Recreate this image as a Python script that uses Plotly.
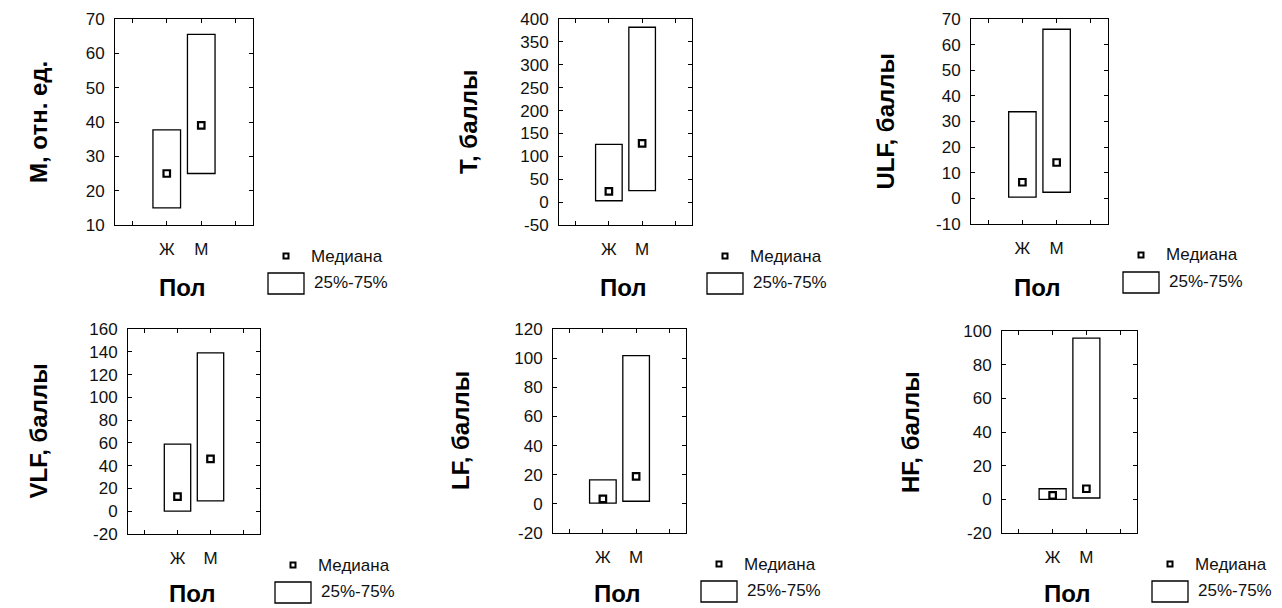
import plotly.graph_objects as go

W, H = 1282, 608

groups = ["Ж", "М"]
x_title = "Пол"
legend_median = "Медиана"
legend_box = "25%-75%"

titles = ["М, отн. ед.", "T, баллы", "ULF, баллы", "VLF, баллы", "LF, баллы", "HF, баллы"]

# quartiles and medians per indicator: [Ж, М]
M_q25 = [15, 25];     M_med = [25, 39];     M_q75 = [37.7, 65.5]
T_q25 = [3, 25];      T_med = [23.5, 128.5]; T_q75 = [126, 382]
ULF_q25 = [0.5, 2.4]; ULF_med = [6.3, 14];  ULF_q75 = [33.8, 66]
VLF_q25 = [0, 9];     VLF_med = [12.8, 46]; VLF_q75 = [59, 139]
LF_q25 = [0.5, 1.8];  LF_med = [3.4, 18.8]; LF_q75 = [16.5, 101.7]
HF_q25 = [0, 0.8];    HF_med = [2.4, 6.3];  HF_q75 = [6.3, 95.8]

y_min = [10, -50, -10, -20, -20, -20]
y_max = [70, 400, 70, 160, 120, 100]
y_step = [10, 50, 10, 20, 20, 20]

q25s = [M_q25, T_q25, ULF_q25, VLF_q25, LF_q25, HF_q25]
meds = [M_med, T_med, ULF_med, VLF_med, LF_med, HF_med]
q75s = [M_q75, T_q75, ULF_q75, VLF_q75, LF_q75, HF_q75]

# panel frames in pixels: left, right, top, bottom
frames = [(115, 253, 19, 225), (559, 692, 19, 225), (971, 1108, 19, 224),
          (128, 260, 329, 534), (553, 686, 329, 533), (1002, 1137, 331, 533)]
ytitle_x = [38, 468, 885, 38, 460, 910]

FONT = "Liberation Sans, Arial, sans-serif"
fig = go.Figure()
pos = [i + 1 for i in range(len(groups))]
annotations = []
shapes = []

for k in range(6):
    sfx = "" if k == 0 else str(k + 1)
    xa, ya = "x" + sfx, "y" + sfx
    L, R, T, B = frames[k]
    heights = [q75s[k][i] - q25s[k][i] for i in range(len(groups))]
    fig.add_trace(go.Bar(x=pos, y=heights, base=q25s[k], width=0.8,
                         marker=dict(color="white", line=dict(color="black", width=1.3)),
                         xaxis=xa, yaxis=ya, showlegend=False, hoverinfo="skip"))
    fig.add_trace(go.Scatter(x=pos, y=meds[k], mode="markers",
                             marker=dict(symbol="square", size=6.5, color="white",
                                         line=dict(color="black", width=2.2)),
                             xaxis=xa, yaxis=ya, showlegend=False, hoverinfo="skip"))
    axis_common = dict(showline=True, linecolor="black", linewidth=1, mirror="ticks",
                       ticks="inside", ticklen=4, tickcolor="black", showgrid=False,
                       zeroline=False, automargin=False,
                       tickfont=dict(family=FONT, size=17, color="#111"))
    yvals = list(range(y_min[k], y_max[k] + 1, y_step[k]))
    ytext = [str(v).replace("\u2212", "-") for v in yvals]
    fig.layout["xaxis" + sfx] = dict(domain=[L / W, R / W], anchor=ya, range=[-0.5, 3.5],
                                     tickmode="array", tickvals=[0, 1, 2, 3],
                                     ticktext=[""] + groups + [""], ticklabelstandoff=9,
                                     **axis_common)
    fig.layout["yaxis" + sfx] = dict(domain=[1 - B / H, 1 - T / H], anchor=xa,
                                     range=[y_min[k], y_max[k]], tickmode="array",
                                     tickvals=yvals, ticktext=ytext,
                                     ticklabelstandoff=6, **axis_common)
    # y title
    annotations.append(dict(text=titles[k], xref="paper", yref="paper",
                            x=ytitle_x[k] / W, y=1 - ((T + B) / 2) / H, textangle=-90,
                            showarrow=False, xanchor="center", yanchor="middle",
                            font=dict(family=FONT, size=24, color="black", weight="bold")))
    # x title (kept inside the page)
    ty = min(B + 63, H - 15)
    annotations.append(dict(text=x_title, xref="paper", yref="paper",
                            x=((L + R) / 2 - 2) / W, y=1 - ty / H,
                            showarrow=False, xanchor="center", yanchor="middle",
                            font=dict(family=FONT, size=24, color="black", weight="bold")))
    # legend texts
    annotations.append(dict(text=legend_median, xref="paper", yref="paper",
                            x=(R + 56) / W, y=1 - (B + 31) / H, showarrow=False,
                            xanchor="left", yanchor="middle",
                            font=dict(family=FONT, size=17, color="#111")))
    annotations.append(dict(text=legend_box, xref="paper", yref="paper",
                            x=(R + 59) / W, y=1 - (B + 57) / H, showarrow=False,
                            xanchor="left", yanchor="middle",
                            font=dict(family=FONT, size=17, color="#111")))
    # legend glyphs
    shapes.append(dict(type="rect", xref="paper", yref="paper",
                       x0=(R + 30.5) / W, x1=(R + 35.5) / W,
                       y0=1 - (B + 33.5) / H, y1=1 - (B + 28.5) / H,
                       line=dict(color="black", width=2), fillcolor="white"))
    shapes.append(dict(type="rect", xref="paper", yref="paper",
                       x0=(R + 15) / W, x1=(R + 51) / W,
                       y0=1 - (B + 69) / H, y1=1 - (B + 48) / H,
                       line=dict(color="black", width=1.3), fillcolor="white"))

fig.update_layout(width=W, height=H, margin=dict(l=0, r=0, t=0, b=0, pad=0, autoexpand=False),
                  paper_bgcolor="white", plot_bgcolor="white",
                  annotations=annotations, shapes=shapes, showlegend=False,
                  font=dict(family=FONT))
fig.write_html("out.html", config={"displayModeBar": False},
               post_script="document.body.style.margin='0px';document.body.style.overflow='hidden';")
